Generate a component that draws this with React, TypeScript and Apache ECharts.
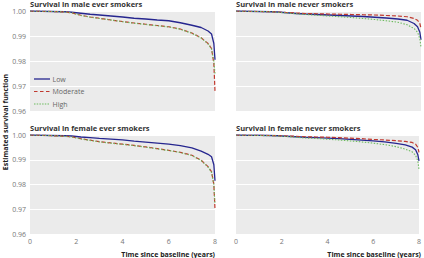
import React, { useEffect, useRef } from "react";
import * as echarts from "echarts";

const times = [0, 0.5, 1, 1.5, 1.8, 2.2, 2.6, 3, 3.5, 4, 4.5, 5, 5.5, 6, 6.5, 7, 7.4, 7.7, 7.85, 7.95, 8];

const maleEverLow = [1.0, 0.9999, 0.9998, 0.9997, 0.9995, 0.9991, 0.9987, 0.9984, 0.998, 0.9976, 0.9971, 0.9968, 0.9964, 0.9961, 0.9953, 0.9943, 0.9934, 0.992, 0.9908, 0.987, 0.9805];
const maleEverModerate = [1.0, 0.9999, 0.9998, 0.9996, 0.9993, 0.9983, 0.9976, 0.9971, 0.9964, 0.9958, 0.9952, 0.9947, 0.9942, 0.9937, 0.9928, 0.9912, 0.9893, 0.987, 0.985, 0.979, 0.968];
const maleEverHigh = [1.0, 0.9999, 0.9998, 0.9996, 0.9993, 0.9982, 0.9975, 0.997, 0.9964, 0.9957, 0.9951, 0.9946, 0.9941, 0.9936, 0.9927, 0.9911, 0.9892, 0.9868, 0.9848, 0.98, 0.975];

const maleNeverLow = [1.0, 0.9999, 0.9998, 0.9997, 0.9996, 0.9993, 0.999, 0.9988, 0.9986, 0.9984, 0.9982, 0.998, 0.9978, 0.9975, 0.9972, 0.9968, 0.9963, 0.995, 0.9937, 0.9915, 0.9885];
const maleNeverModerate = [1.0, 0.9999, 0.9998, 0.9997, 0.9996, 0.9994, 0.9992, 0.999, 0.9989, 0.9988, 0.9987, 0.9986, 0.9985, 0.9984, 0.9982, 0.998, 0.9977, 0.997, 0.9963, 0.995, 0.993];
const maleNeverHigh = [1.0, 0.9999, 0.9998, 0.9997, 0.9995, 0.9992, 0.9989, 0.9986, 0.9983, 0.998, 0.9977, 0.9974, 0.997, 0.9966, 0.9961, 0.9955, 0.9945, 0.993, 0.9915, 0.989, 0.9855];

const femaleEverLow = [1.0, 0.9999, 0.9998, 0.9997, 0.9996, 0.9992, 0.9989, 0.9986, 0.9983, 0.998, 0.9975, 0.9971, 0.9967, 0.9963, 0.9957, 0.9948, 0.9935, 0.9922, 0.9912, 0.988, 0.9815];
const femaleEverModerate = [1.0, 0.9999, 0.9997, 0.9995, 0.9993, 0.9985, 0.9979, 0.9973, 0.9968, 0.9963, 0.9958, 0.9952, 0.9945, 0.9938, 0.993, 0.9918, 0.9898, 0.9872, 0.9852, 0.98, 0.97];
const femaleEverHigh = [1.0, 0.9999, 0.9997, 0.9995, 0.9992, 0.9984, 0.9978, 0.9972, 0.9967, 0.9962, 0.9957, 0.9951, 0.9944, 0.9937, 0.9929, 0.9917, 0.9897, 0.987, 0.9849, 0.98, 0.972];

const femaleNeverLow = [1.0, 0.9999, 0.9999, 0.9998, 0.9997, 0.9995, 0.9993, 0.9991, 0.9989, 0.9987, 0.9985, 0.9982, 0.9979, 0.9976, 0.9972, 0.9966, 0.996, 0.9951, 0.994, 0.992, 0.9895];
const femaleNeverModerate = [1.0, 0.9999, 0.9999, 0.9998, 0.9997, 0.9996, 0.9995, 0.9993, 0.9992, 0.9991, 0.9989, 0.9987, 0.9985, 0.9982, 0.998, 0.9977, 0.9974, 0.997, 0.9963, 0.995, 0.993];
const femaleNeverHigh = [1.0, 0.9999, 0.9998, 0.9997, 0.9996, 0.9994, 0.9991, 0.9988, 0.9986, 0.9983, 0.998, 0.9976, 0.9972, 0.9967, 0.9961, 0.9953, 0.9943, 0.9932, 0.9918, 0.9895, 0.986];

const panelTitles = [
  "Survival in male ever smokers",
  "Survival in male never smokers",
  "Survival in female ever smokers",
  "Survival in female never smokers",
];
const groupNames = ["Low", "Moderate", "High"];
const xTicks = [0, 2, 4, 6, 8];
const yTicks = [0.96, 0.97, 0.98, 0.99, 1.0];

const panelData = [
  [maleEverLow, maleEverModerate, maleEverHigh],
  [maleNeverLow, maleNeverModerate, maleNeverHigh],
  [femaleEverLow, femaleEverModerate, femaleEverHigh],
  [femaleNeverLow, femaleNeverModerate, femaleNeverHigh],
];

const FONT = "Open Sans";
const grids = [
  { left: 30, top: 11, width: 185, height: 100 },
  { left: 236, top: 11, width: 185, height: 100 },
  { left: 30, top: 135, width: 185, height: 99 },
  { left: 236, top: 135, width: 185, height: 99 },
];
const styles: any[] = [
  { color: "#26268f", type: "solid", width: 1.3 },
  { color: "#c0392f", type: [4, 2], width: 1.2 },
  { color: "#6dbb5f", type: [1.5, 1.5], width: 1.1 },
];
const legendDashes: any[] = [null, [3.5, 2.5], [1.5, 1.2]];

export default function App() {
  const ref = useRef<HTMLDivElement>(null);
  useEffect(() => {
    if (!ref.current) return;
    const chart = echarts.init(ref.current, null, { renderer: "svg" });
    const series: any[] = [];
    panelData.forEach((group, gi) => {
      group.forEach((vals, si) => {
        series.push({
          type: "line",
          name: groupNames[si],
          xAxisIndex: gi,
          yAxisIndex: gi,
          data: times.map((t, i) => [t, vals[i]]),
          symbol: "none",
          showSymbol: false,
          lineStyle: styles[si],
          itemStyle: { color: styles[si].color },
          z: 3,
        });
      });
    });
    const legendGraphics: any[] = [];
    groupNames.forEach((name, i) => {
      const y = 79 + i * 12.5;
      const s = styles[i];
      legendGraphics.push({
        type: "line",
        shape: { x1: 34, y1: y, x2: 50, y2: y },
        style: {
          stroke: s.color,
          lineWidth: s.width,
          lineDash: legendDashes[i],
        },
        z: 10,
      });
      legendGraphics.push({
        type: "text",
        x: 52.5,
        y,
        style: {
          text: name,
          fontFamily: FONT,
          fontSize: 7,
          fill: "#666",
          align: "left",
          verticalAlign: "middle",
        },
        z: 10,
      });
    });
    const option: any = {
      animation: false,
      backgroundColor: "#ffffff",
      grid: grids.map((g) => ({
        ...g,
        show: true,
        backgroundColor: "#ebebeb",
        borderWidth: 0,
        containLabel: false,
      })),
      title: grids.map((g, i) => ({
        text: panelTitles[i],
        left: g.left,
        top: g.top - 11,
        textStyle: { fontFamily: FONT, fontSize: 7.5, fontWeight: "bold", color: "#333" },
        padding: 0,
      })),
      xAxis: grids.map((g, i) => ({
        type: "value",
        gridIndex: i,
        min: xTicks[0],
        max: xTicks[xTicks.length - 1],
        interval: 2,
        axisLine: { show: false },
        axisTick: { show: false },
        splitLine: { show: false },
        axisLabel: {
          show: i >= 2,
          fontFamily: FONT,
          fontSize: 7,
          color: "#777",
          margin: 4,
        },
      })),
      yAxis: grids.map((g, i) => ({
        type: "value",
        gridIndex: i,
        min: yTicks[0],
        max: yTicks[yTicks.length - 1],
        interval: 0.01,
        axisLine: { show: false },
        axisTick: { show: false },
        splitLine: { show: true, lineStyle: { color: "#ffffff", width: 1 } },
        axisLabel: {
          show: i % 2 === 0,
          fontFamily: FONT,
          fontSize: 7,
          color: "#777",
          margin: 4,
          formatter: (v: number) => v.toFixed(2),
        },
      })),
      graphic: [
        ...legendGraphics,
        {
          type: "text",
          x: 5,
          y: 122,
          rotation: Math.PI / 2,
          style: {
            text: "Estimated survival function",
            fontFamily: FONT,
            fontSize: 7,
            fontWeight: "bold",
            fill: "#222",
            align: "center",
            verticalAlign: "middle",
          },
        },
        {
          type: "text",
          x: 215,
          y: 254,
          style: {
            text: "Time since baseline (years)",
            fontFamily: FONT,
            fontSize: 7,
            fontWeight: "bold",
            fill: "#222",
            align: "right",
            verticalAlign: "middle",
          },
        },
        {
          type: "text",
          x: 421,
          y: 254,
          style: {
            text: "Time since baseline (years)",
            fontFamily: FONT,
            fontSize: 7,
            fontWeight: "bold",
            fill: "#222",
            align: "right",
            verticalAlign: "middle",
          },
        },
      ],
      series,
    };
    chart.setOption(option);
    return () => chart.dispose();
  }, []);
  return (
    <div
      ref={ref}
      style={{ position: "fixed", left: 0, top: 0, width: 424, height: 258 }}
    />
  );
}
